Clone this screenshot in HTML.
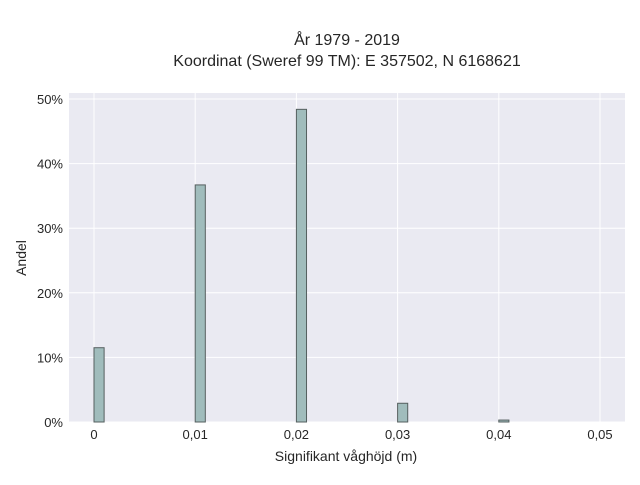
<!DOCTYPE html>
<html><head><meta charset="utf-8"><style>
body{margin:0;background:#fff;font-family:"Liberation Sans",sans-serif;}
svg text{font-family:"Liberation Sans",sans-serif;fill:#262626;}
</style></head><body>
<svg id="chart" width="640" height="480" xmlns="http://www.w3.org/2000/svg">
<text x="347" y="45" text-anchor="middle" font-size="16">År 1979 - 2019</text>
<text x="347" y="66" text-anchor="middle" font-size="16">Koordinat (Sweref 99 TM): E 357502, N 6168621</text>
<rect x="69" y="93" width="556" height="329" fill="#eaeaf2"/>
<g id="grid"></g>
<g id="bars"></g>
<g id="ticks"></g>
<text x="346" y="461" text-anchor="middle" font-size="14">Signifikant våghöjd (m)</text>
<text transform="translate(26,258) rotate(-90)" text-anchor="middle" font-size="14">Andel</text>
</svg>
<script>
const binStarts=[0,0.01,0.02,0.03,0.04];
const binValues=[11.5,36.7,48.4,2.9,0.3];
const xTicks=[0,0.01,0.02,0.03,0.04,0.05];
const xTickLabels=["0","0,01","0,02","0,03","0,04","0,05"];
const yTicks=[0,10,20,30,40,50];
const yTickLabels=["0%","10%","20%","30%","40%","50%"];
const binWidth=0.001;
const NS="http://www.w3.org/2000/svg";
function xs(v){return 94+v*(600-94)/0.05;}
function ys(v){return 422-v*(422-99)/50;}
const grid=document.getElementById('grid'),bars=document.getElementById('bars'),ticks=document.getElementById('ticks');
xTicks.forEach((t,i)=>{
 const l=document.createElementNS(NS,'line');
 
 
 l.setAttribute('x1',xs(t));l.setAttribute('x2',xs(t));l.setAttribute('y1',93);l.setAttribute('y2',422);
 l.setAttribute('stroke','#fff');l.setAttribute('stroke-width','1');grid.appendChild(l);
 const tx=document.createElementNS(NS,'text');
 
 
 tx.setAttribute('x',xs(t));tx.setAttribute('y',439);tx.setAttribute('text-anchor','middle');tx.setAttribute('font-size','13');
 tx.textContent=xTickLabels[i];ticks.appendChild(tx);
});
yTicks.forEach((t,i)=>{
 const l=document.createElementNS(NS,'line');
 
 
 l.setAttribute('x1',69);l.setAttribute('x2',625);l.setAttribute('y1',ys(t));l.setAttribute('y2',ys(t));
 l.setAttribute('stroke','#fff');l.setAttribute('stroke-width','1');grid.appendChild(l);
 const tx=document.createElementNS(NS,'text');
 
 
 tx.setAttribute('x',63);tx.setAttribute('y',ys(t)+5);tx.setAttribute('text-anchor','end');tx.setAttribute('font-size','13');
 tx.textContent=yTickLabels[i];ticks.appendChild(tx);
});
binStarts.forEach((s,i)=>{
 const r=document.createElementNS(NS,'rect');
 
 
 const x0=xs(s),x1=xs(s+binWidth);
 r.setAttribute('x',x0);r.setAttribute('width',x1-x0);
 r.setAttribute('y',ys(binValues[i]));r.setAttribute('height',ys(0)-ys(binValues[i]));
 r.setAttribute('fill','#a0bcbc');r.setAttribute('stroke','#555f5f');r.setAttribute('stroke-width','1');
 bars.appendChild(r);
});
</script>
</body></html>
